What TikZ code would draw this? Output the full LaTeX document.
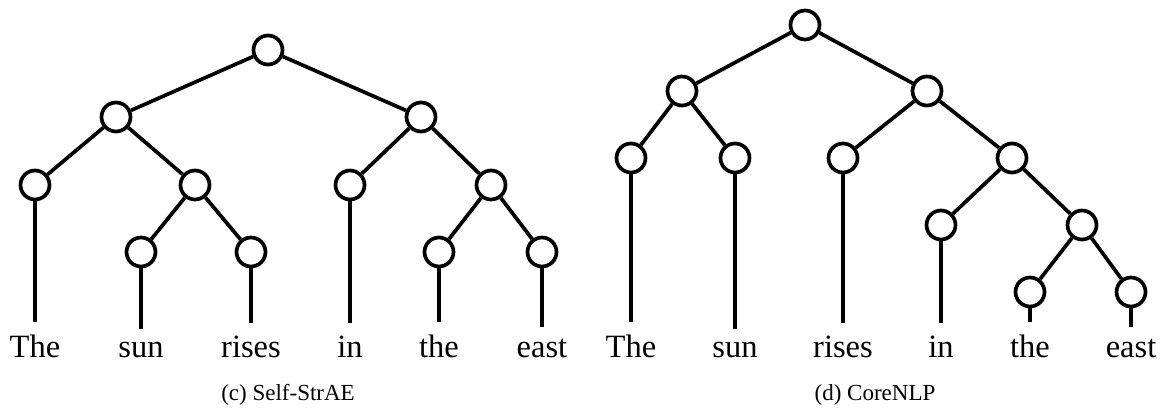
\documentclass[tikz,border=0pt]{standalone}
\usepackage{fontspec}
\setmainfont{Liberation Serif}
\begin{document}
\begin{tikzpicture}[x=1pt,y=-1pt,
  nd/.style={circle,draw,line width=3.7pt,minimum size=29pt,inner sep=0pt},
  edge/.style={line width=3.7pt},
  word/.style={font=\fontsize{32.5}{33}\selectfont,anchor=base,inner xsep=0pt,inner ysep=12pt},
  capt/.style={font=\fontsize{23}{25}\selectfont,anchor=base,inner sep=0pt}]
\useasboundingbox (0,0) rectangle (1166,414);
% left tree
\node[nd] (a0) at (268,50) {};
\node[nd] (a1) at (116,117) {};
\node[nd] (a2) at (421,117) {};
\node[nd] (a3) at (35,185) {};
\node[nd] (a4) at (195,185) {};
\node[nd] (a5) at (350,185) {};
\node[nd] (a6) at (491,185) {};
\node[nd] (a7) at (141,252) {};
\node[nd] (a8) at (251,252) {};
\node[nd] (a9) at (439,252) {};
\node[nd] (a10) at (542,252) {};
\node[word] (wa1) at (35,357) {The};
\node[word] (wa2) at (141,357) {sun};
\node[word] (wa3) at (251,357) {rises};
\node[word] (wa4) at (350,357) {in};
\node[word] (wa5) at (439,357) {the};
\node[word] (wa6) at (542,357) {east};
\draw[edge] (a0) -- (a1);
\draw[edge] (a0) -- (a2);
\draw[edge] (a1) -- (a3);
\draw[edge] (a1) -- (a4);
\draw[edge] (a2) -- (a5);
\draw[edge] (a2) -- (a6);
\draw[edge] (a4) -- (a7);
\draw[edge] (a4) -- (a8);
\draw[edge] (a6) -- (a9);
\draw[edge] (a6) -- (a10);
\draw[edge] (a3.south) -- (wa1.north);
\draw[edge] (a7.south) -- (wa2.north);
\draw[edge] (a8.south) -- (wa3.north);
\draw[edge] (a5.south) -- (wa4.north);
\draw[edge] (a9.south) -- (wa5.north);
\draw[edge] (a10.south) -- (wa6.north);
\node[capt] (ca) at (288,400) {(c) Self-StrAE};
% right tree
\node[nd] (b0) at (805,25) {};
\node[nd] (b1) at (682,91) {};
\node[nd] (b2) at (927,91) {};
\node[nd] (b3) at (631,158) {};
\node[nd] (b4) at (735,158) {};
\node[nd] (b5) at (843,158) {};
\node[nd] (b6) at (1012,158) {};
\node[nd] (b7) at (941,225) {};
\node[nd] (b8) at (1082,225) {};
\node[nd] (b9) at (1030,292) {};
\node[nd] (b10) at (1131,292) {};
\node[word] (wb1) at (631,357) {The};
\node[word] (wb2) at (735,357) {sun};
\node[word] (wb3) at (843,357) {rises};
\node[word] (wb4) at (941,357) {in};
\node[word] (wb5) at (1030,357) {the};
\node[word] (wb6) at (1131,357) {east};
\draw[edge] (b0) -- (b1);
\draw[edge] (b0) -- (b2);
\draw[edge] (b1) -- (b3);
\draw[edge] (b1) -- (b4);
\draw[edge] (b2) -- (b5);
\draw[edge] (b2) -- (b6);
\draw[edge] (b6) -- (b7);
\draw[edge] (b6) -- (b8);
\draw[edge] (b8) -- (b9);
\draw[edge] (b8) -- (b10);
\draw[edge] (b3.south) -- (wb1.north);
\draw[edge] (b4.south) -- (wb2.north);
\draw[edge] (b5.south) -- (wb3.north);
\draw[edge] (b7.south) -- (wb4.north);
\draw[edge] (b9.south) -- (wb5.north);
\draw[edge] (b10.south) -- (wb6.north);
\node[capt] (cb) at (875,400) {(d) CoreNLP};
\end{tikzpicture}
\end{document}
